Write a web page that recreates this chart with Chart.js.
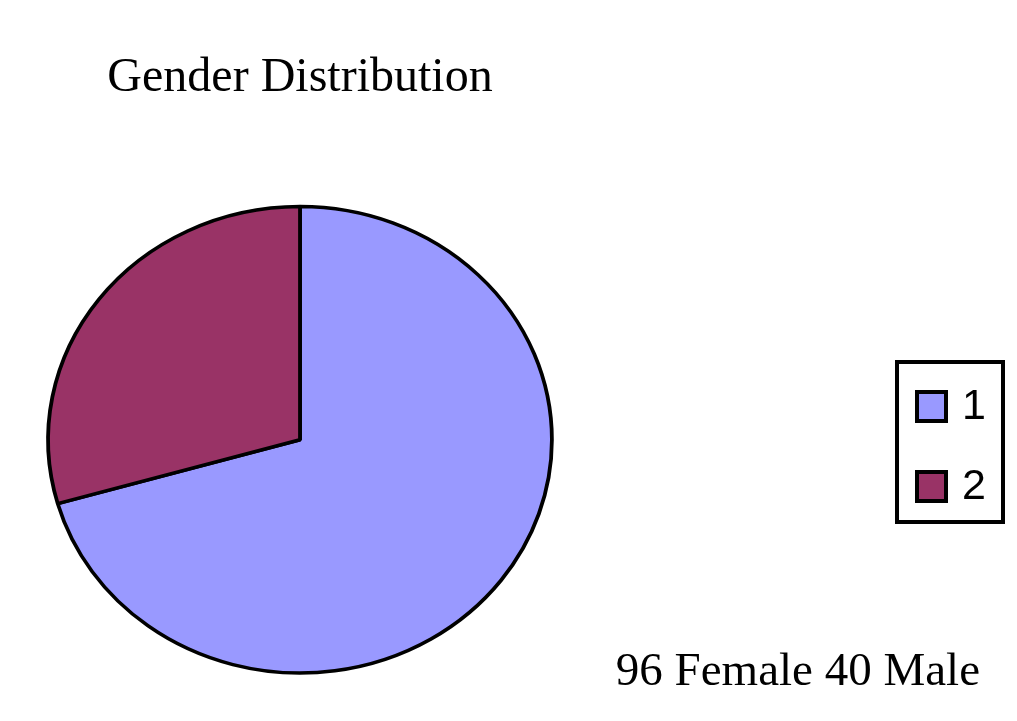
<!DOCTYPE html>
<html>
<head>
<meta charset="utf-8">
<script src="https://cdn.jsdelivr.net/npm/chart.js@4/dist/chart.umd.min.js"></script>
<style>
    body { margin: 0; background: #fff; }
    canvas { display: block; }
</style>
</head>
<body>
<canvas id="genderChart" width="1017" height="721"></canvas>
<script>
var labels = ['1', '2'];
var counts = [96, 40];
var colors = ['#9999FF', '#993366'];
var chartTitle = 'Gender Distribution';
var note = '96 Female 40 Male';

// the original pie is a bit wider than tall
var stretchX = 1.08;

var ellipsePlugin = {
    id: 'ellipse',
    beforeDatasetsDraw: function(chart) {
        var arc = chart.getDatasetMeta(0).data[0];
        var ctx = chart.ctx;
        ctx.save();
        ctx.translate(arc.x, arc.y);
        ctx.scale(stretchX, 1);
        ctx.translate(-arc.x, -arc.y);
    },
    afterDatasetsDraw: function(chart) {
        chart.ctx.restore();
    }
};

// boxed legend off to the right plus the note under it
var boxLegendPlugin = {
    id: 'boxLegend',
    afterDraw: function(chart) {
        var ctx = chart.ctx;
        var ds = chart.data.datasets[0];
        ctx.save();
        ctx.strokeStyle = '#000';
        ctx.lineWidth = 4;
        ctx.strokeRect(897, 362, 106, 160);

        ctx.font = '43px "Liberation Sans", Arial, sans-serif';
        ctx.textBaseline = 'middle';
        ctx.textAlign = 'left';
        chart.data.labels.forEach(function(label, i) {
            var y = 406 + i * 80;
            ctx.fillStyle = ds.backgroundColor[i];
            ctx.fillRect(917, y - 14, 29, 29);
            ctx.lineWidth = 4;
            ctx.strokeRect(917, y - 14, 29, 29);
            ctx.fillStyle = '#000';
            ctx.fillText(label, 962, y + 1);
        });

        ctx.font = '47px "Liberation Serif", "Times New Roman", serif';
        ctx.textAlign = 'right';
        ctx.textBaseline = 'alphabetic';
        ctx.fillText(note, 980, 685);
        ctx.restore();
    }
};

var ctxGender = document.getElementById('genderChart').getContext('2d');
var genderChart = new Chart(ctxGender, {
    type: 'pie',
    data: {
        labels: labels,
        datasets: [{
            data: counts,
            backgroundColor: colors,
            borderColor: '#000',
            borderWidth: 3.5
        }]
    },
    options: {
        responsive: false,
        animation: false,
        layout: {
            padding: { left: 65, right: 482, top: 0, bottom: 46 }
        },
        plugins: {
            legend: { display: false },
            tooltip: { enabled: false },
            title: {
                display: true,
                text: chartTitle,
                fullSize: false,
                color: '#000',
                font: { family: '"Liberation Serif", "Times New Roman", serif', size: 48, weight: 'normal' },
                padding: { top: 50, bottom: 97 }
            }
        }
    },
    plugins: [ellipsePlugin, boxLegendPlugin]
});
</script>
</body>
</html>
